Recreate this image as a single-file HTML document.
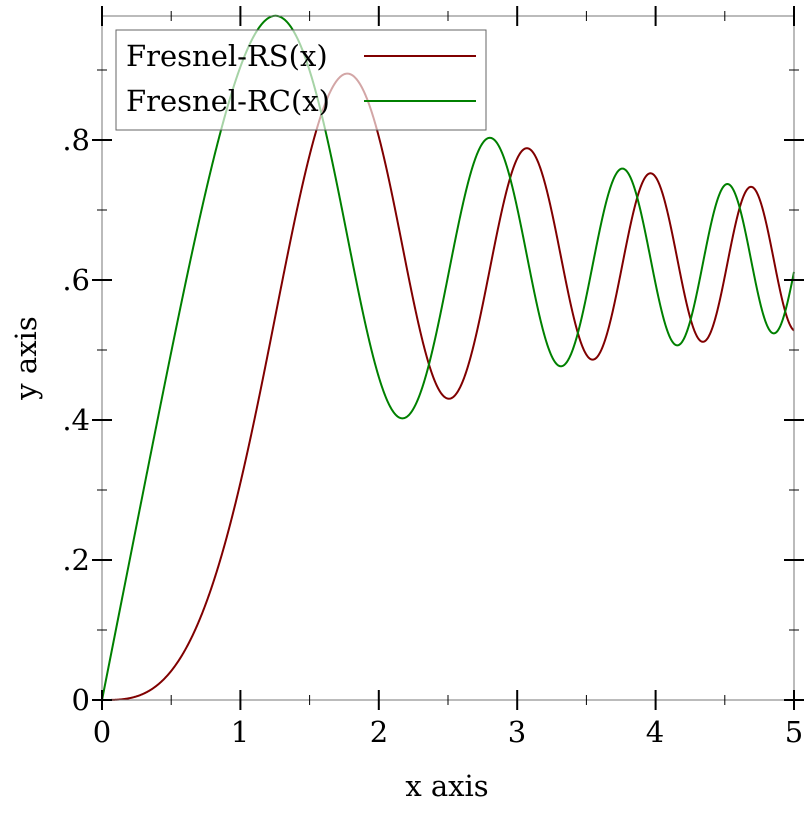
<!DOCTYPE html>
<html><head><style>
html,body{margin:0;padding:0;background:#fff;}
svg text{font-family:"DejaVu Serif","Liberation Serif",serif;font-size:29px;fill:#000;}
</style></head><body>
<svg id="s" width="812" height="812" xmlns="http://www.w3.org/2000/svg">
<rect width="812" height="812" fill="#fff"/>
<g id="curves"></g>
<rect x="116" y="30" width="370" height="100" fill="#fff" fill-opacity="0.65" stroke="#666" stroke-width="1"/>
<text x="126" y="66">Fresnel-RS(x)</text>
<text x="126" y="111">Fresnel-RC(x)</text>
<line x1="364" y1="56" x2="476" y2="56" stroke="#800000" stroke-width="2"/>
<line x1="364" y1="101" x2="476" y2="101" stroke="#008000" stroke-width="2"/>
<rect x="102" y="16" width="692" height="684" fill="none" stroke="#777" stroke-width="1"/>
<g id="ticks" stroke="#000"></g>
<g text-anchor="middle">
<text x="102" y="742">0</text><text x="240" y="742">1</text><text x="379" y="742">2</text>
<text x="517" y="742">3</text><text x="655" y="742">4</text><text x="794" y="742">5</text>
<text x="447" y="796">x axis</text>
</g>
<g text-anchor="end">
<text x="90" y="710">0</text><text x="90" y="570">.2</text><text x="90" y="430">.4</text>
<text x="90" y="290">.6</text><text x="90" y="150">.8</text>
</g>
<text transform="translate(36,358) rotate(-90)" text-anchor="middle">y axis</text>
</svg>
<script>
var X=function(x){return 102+x*138.4;},Y=function(y){return 700-y*700;};
var n=2000,h=5/n,S=0,C=0,ps="M"+X(0)+","+Y(0),pc=ps;
for(var i=1;i<=n;i++){var a=(i-1)*h,b=i*h,m=(a+b)/2;
S+=h/6*(Math.sin(a*a)+4*Math.sin(m*m)+Math.sin(b*b));
C+=h/6*(Math.cos(a*a)+4*Math.cos(m*m)+Math.cos(b*b));
ps+=" L"+X(b).toFixed(2)+","+Y(S).toFixed(2);pc+=" L"+X(b).toFixed(2)+","+Y(C).toFixed(2);}
var ns="http://www.w3.org/2000/svg",g=document.getElementById("curves");
[[ps,"#800000"],[pc,"#008000"]].forEach(function(d){var p=document.createElementNS(ns,"path");
p.setAttribute("d",d[0]);p.setAttribute("fill","none");p.setAttribute("stroke",d[1]);p.setAttribute("stroke-width","2");g.appendChild(p);});
var t=document.getElementById("ticks");
function L(a,b,c,d,w){var l=document.createElementNS(ns,"line");l.setAttribute("x1",a);l.setAttribute("y1",b);l.setAttribute("x2",c);l.setAttribute("y2",d);l.setAttribute("stroke-width",w);t.appendChild(l);}
for(var k=0;k<=10;k++){var x=X(k/2),mj=(k%2==0),len=mj?10:5,w=mj?2:1;L(x,700-len,x,700+len,w);L(x,16-len,x,16+len,w);}
for(var k=0;k<=9;k++){var y=Y(k/10),mj=(k%2==0),len=mj?10:5,w=mj?2:1;L(102-len,y,102+len,y,w);L(794-len,y,794+len,y,w);}
</script>
</body></html>
